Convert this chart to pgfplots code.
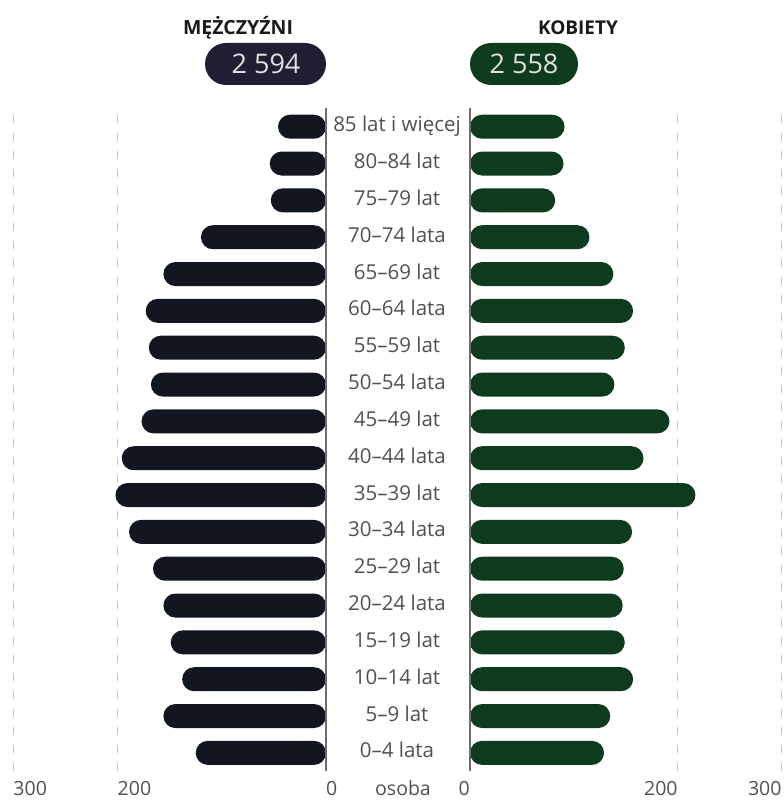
\documentclass[border=0pt]{standalone}
\usepackage{fontspec}
\setmainfont{Open Sans}
\usepackage{pgfplots}
\pgfplotsset{compat=1.18}
\usepackage{pgfplotstable}
\definecolor{mbar}{HTML}{111620}
\definecolor{fbar}{HTML}{0E3A1E}
\definecolor{mpill}{HTML}{201E33}
\definecolor{fpill}{HTML}{0D3B1C}
\definecolor{lab}{HTML}{505050}
\definecolor{gridc}{HTML}{C8C8C8}
\definecolor{axc}{HTML}{6E6E6E}
\definecolor{head}{HTML}{1A1A1A}

% k = age group index (0 = 0-4 lata ... 17 = 85 lat i wiecej), m = men, f = women
\pgfplotstableread{
k m f
0 125 129
1 156 135
2 138 157
3 149 149
4 156 147
5 166 148
6 189 156
7 202 217
8 196 167
9 177 192
10 168 139
11 170 149
12 173 157
13 156 138
14 120 115
15 53 82
16 54 90
17 46 91
}\data

\pgfplotsset{pyr/.style={
  scale only axis, height=663pt,
  ymin=-0.5, ymax=17.5,
  xmin=15, xmax=315,
  axis line style={draw=none},
  xtick={15,215,315}, xticklabels={0,200,300},
  major tick length=0pt,
  xmajorgrids,
  grid style={gridc, line width=1.2pt, dash pattern=on 8pt off 10pt},
  ytick=\empty,
  /pgf/number format/assume math mode=true,
  xticklabel style={font=\fontsize{19.5}{22}\selectfont, text=lab, inner sep=0pt, yshift=-24.2pt},
}}

\begin{document}
\begin{tikzpicture}
\path[use as bounding box] (0,0) rectangle (784pt,801pt);

% men (left)
\begin{axis}[pyr, width=312.7pt, x dir=reverse,
  at={(169.65pt,361.2pt)}, anchor=center,
  xticklabel style={anchor=base west}]
\addplot[xbar, draw=none, fill=mbar, bar width=24pt, rounded corners=12pt]
  table[x expr=\thisrow{m}+15, y=k]{\data};
\end{axis}

% women (right)
\begin{axis}[pyr, width=311.7pt,
  at={(625.85pt,361.2pt)}, anchor=center,
  xticklabel style={anchor=base east},
  ytick={0,...,17},
  yticklabels={0–4 lata,5–9 lat,10–14 lat,15–19 lat,20–24 lata,25–29 lat,30–34 lata,35–39 lat,40–44 lata,45–49 lat,50–54 lata,55–59 lat,60–64 lata,65–69 lat,70–74 lata,75–79 lat,80–84 lat,85 lat i więcej},
  yticklabel style={anchor=base, inner sep=0pt, xshift=-73pt, yshift=-5pt, font=\fontsize{20.5}{22}\selectfont, text=lab}]
\addplot[xbar, draw=none, fill=fbar, bar width=24pt, rounded corners=12pt]
  table[x expr=\thisrow{f}+15, y=k]{\data};
\end{axis}

% axis lines
\draw[axc, line width=1.4pt] (326pt,29.7pt) -- (326pt,692.7pt);
\draw[axc, line width=1.4pt] (470pt,29.7pt) -- (470pt,692.7pt);

\node[anchor=base, inner sep=0pt, text=lab, font=\fontsize{19.5}{22}\selectfont] at (403pt,5.5pt) {osoba};

% headers
\node[anchor=base, inner sep=0pt, text=head, font=\fontsize{19.5}{22}\selectfont\bfseries] at (238pt,766pt) {MĘŻCZYŹNI};
\node[anchor=base, inner sep=0pt, text=head, font=\fontsize{19}{22}\selectfont\bfseries] at (578pt,766pt) {KOBIETY};

% totals
\node[fill=mpill, rounded corners=21pt, minimum width=121pt, minimum height=42pt, inner sep=0pt] at (265.5pt,737pt) {};
\node[fill=fpill, rounded corners=21pt, minimum width=108pt, minimum height=42pt, inner sep=0pt] at (524pt,737pt) {};
\node[anchor=base, inner sep=0pt, text=white!88!black, font=\fontsize{27}{30}\selectfont] at (266pt,727pt) {2 594};
\node[anchor=base, inner sep=0pt, text=white!88!black, font=\fontsize{27}{30}\selectfont] at (524pt,727pt) {2 558};
\end{tikzpicture}
\end{document}
